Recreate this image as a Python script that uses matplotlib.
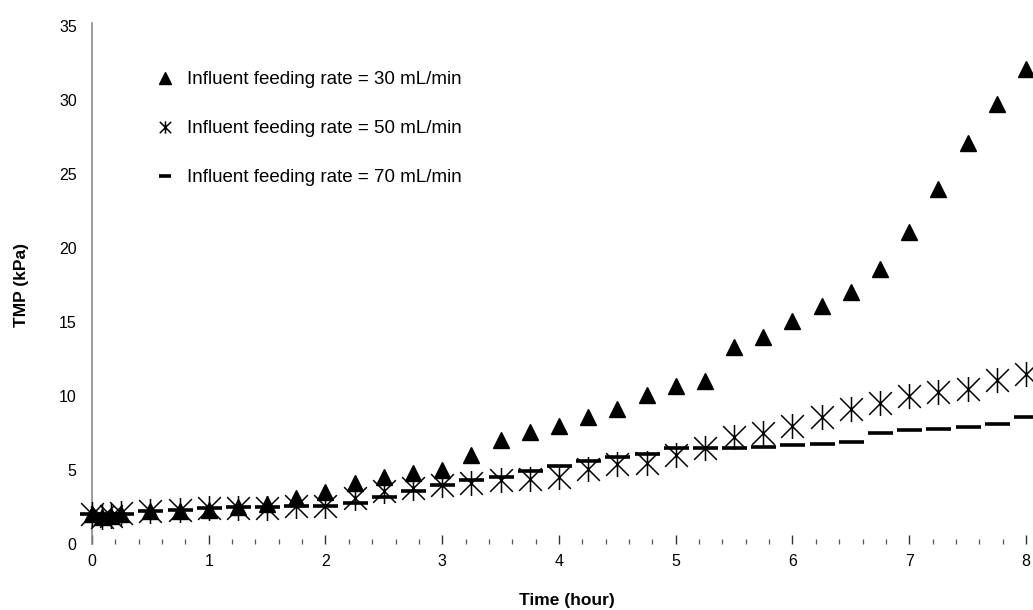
import matplotlib
matplotlib.use("Agg")
import matplotlib.pyplot as plt
from matplotlib.path import Path
from matplotlib.lines import Line2D
from matplotlib.ticker import MultipleLocator

plt.rcParams['font.family'] = ['Liberation Sans', 'DejaVu Sans']

# TMP over time for three influent feeding rates
time_h = [0, 0.083, 0.167, 0.25, 0.5, 0.75, 1.0, 1.25, 1.5, 1.75, 2.0, 2.25,
          2.5, 2.75, 3.0, 3.25, 3.5, 3.75, 4.0, 4.25, 4.5, 4.75, 5.0, 5.25,
          5.5, 5.75, 6.0, 6.25, 6.5, 6.75, 7.0, 7.25, 7.5, 7.75, 8.0]
tmp_30 = [2.0, 1.8, 1.9, 2.0, 2.2, 2.2, 2.3, 2.5, 2.7, 3.1, 3.5, 4.1,
          4.5, 4.8, 5.0, 6.0, 7.0, 7.6, 8.0, 8.6, 9.1, 10.1, 10.7, 11.0,
          13.3, 14.0, 15.1, 16.1, 17.0, 18.6, 21.1, 24.0, 27.1, 29.7, 32.1]
tmp_50 = [2.0, 1.8, 1.9, 2.1, 2.2, 2.3, 2.4, 2.4, 2.4, 2.6, 2.6, 3.1,
          3.6, 3.8, 4.0, 4.1, 4.3, 4.4, 4.5, 5.1, 5.4, 5.5, 6.0, 6.5,
          7.2, 7.5, 8.0, 8.6, 9.1, 9.5, 10.0, 10.3, 10.5, 11.1, 11.5]
tmp_70 = [2.0, 1.9, 2.0, 2.0, 2.2, 2.3, 2.4, 2.5, 2.5, 2.6, 2.6, 2.8,
          3.2, 3.6, 4.0, 4.3, 4.5, 4.9, 5.3, 5.6, 5.9, 6.1, 6.5, 6.5,
          6.5, 6.55, 6.7, 6.75, 6.9, 7.5, 7.7, 7.8, 7.9, 8.1, 8.6]
labels = ['Influent feeding rate = 30 mL/min',
          'Influent feeding rate = 50 mL/min',
          'Influent feeding rate = 70 mL/min']

# asterisk: an X with a vertical stroke through it
star = Path([(-1, -1), (1, 1), (-1, 1), (1, -1), (0, -1.1), (0, 1.1)],
            [Path.MOVETO, Path.LINETO, Path.MOVETO, Path.LINETO,
             Path.MOVETO, Path.LINETO])

fig = plt.figure(figsize=(10.33, 6.10), dpi=100)
ax = fig.add_axes([92 / 1033, 1 - 544 / 610, 941 / 1033, 521 / 610])

ax.plot(time_h, tmp_30, linestyle='none', marker='^', markersize=11.5,
        color='black', clip_on=False, zorder=3)
ax.plot(time_h, tmp_50, linestyle='none', marker=star, markersize=18,
        markerfacecolor='none', markeredgecolor='black', markeredgewidth=1.1,
        clip_on=False, zorder=4)
ax.plot(time_h, tmp_70, linestyle='none', marker='_', markersize=18,
        markeredgewidth=2.6, color='black', clip_on=False, zorder=5)

ax.set_xlim(0, 8.06)
ax.set_ylim(0, 35.2)

ax.xaxis.set_major_locator(MultipleLocator(1))
ax.xaxis.set_minor_locator(MultipleLocator(0.2))
ax.yaxis.set_major_locator(MultipleLocator(5))
ax.tick_params(axis='x', which='major', direction='in', length=6.5, width=1,
               color='#333333', pad=7, labelsize=11.5)
ax.tick_params(axis='x', which='minor', direction='in', length=3.8, width=0.9,
               color='#555555')
ax.tick_params(axis='y', length=0, pad=11, labelsize=11.5)

for side in ['top', 'right', 'bottom']:
    ax.spines[side].set_visible(False)
ax.spines['left'].set_color('#8a8a8a')
ax.spines['left'].set_linewidth(1.2)

fig.text(567 / 1033, 1 - 600 / 610, 'Time (hour)', ha='center', va='center',
         fontsize=12.5, fontweight='bold')
fig.text(22 / 1033, 1 - 285 / 610, 'TMP (kPa)', ha='center', va='center',
         rotation=90, fontsize=12.5, fontweight='bold')

handles = [
    Line2D([], [], linestyle='none', marker='^', markersize=9, color='black'),
    Line2D([], [], linestyle='none', marker=star, markersize=9,
           markerfacecolor='none', markeredgecolor='black', markeredgewidth=1.1),
    Line2D([], [], linestyle='none', marker='_', markersize=9,
           markeredgewidth=2.6, color='black'),
]
ax.legend(handles, labels, loc='upper left', frameon=False, fontsize=13.5,
          bbox_to_anchor=(155 / 1033, 1 - 71 / 610),
          bbox_transform=fig.transFigure, borderpad=0, borderaxespad=0,
          handlelength=1.1, handletextpad=0.6, labelspacing=1.7)

fig.savefig('out.png', dpi=100)
